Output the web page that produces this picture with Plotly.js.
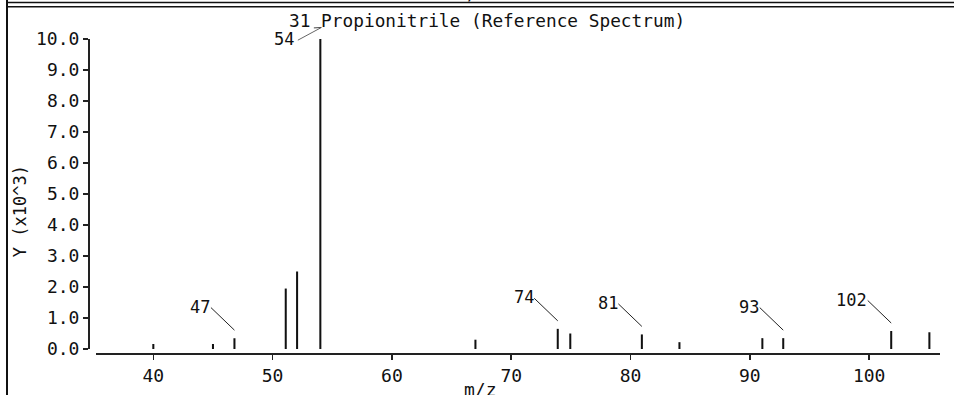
<!DOCTYPE html>
<html>
<head>
<meta charset="utf-8">
<script src="https://cdn.plot.ly/plotly-3.0.1.min.js"></script>
<style>
  html, body { margin: 0; padding: 0; background: #fff; }
  #chart { width: 954px; height: 395px; }
</style>
</head>
<body>
<div id="chart"></div>
<script>
// ---- data ----
const mz        = [40, 45, 46.8, 51.1, 52.05, 54, 67, 73.9, 74.95, 80.95, 84.1, 91.05, 92.8, 101.85, 105.05];
const intensity = [0.16, 0.16, 0.35, 1.95, 2.5, 10.0, 0.3, 0.65, 0.5, 0.47, 0.22, 0.35, 0.35, 0.58, 0.54];
const labelIdx  = [2, 7, 9, 12, 13];
const labelText = ['47', '74', '81', '93', '102'];
const baseIdx   = 5;
const baseText  = '54';
const titleText = '31 Propionitrile (Reference Spectrum)';
const xTitle    = 'm/z';
const yTitle    = 'Y (x10^3)';

const FONT = 'DejaVu Sans Mono, Liberation Mono, monospace';
const INK = '#111';

// layout geometry helpers (pixel -> paper)
const L = 89, R = 14, T = 39, B = 41, W = 954, H = 395;
const PW = W - L - R, PH = H - T - B;
const px = X => (X - L) / PW;
const py = Y => (H - B - Y) / PH;

const annotations = [];
labelIdx.forEach((i, k) => {
  // leader line
  annotations.push({
    x: mz[i], y: intensity[i], xref: 'x', yref: 'y', text: '',
    showarrow: true, arrowhead: 0, arrowwidth: 1, arrowcolor: '#222',
    standoff: 0, ax: -25, ay: -24, yshift: 8
  });
  // label text
  annotations.push({
    x: mz[i], y: intensity[i], xref: 'x', yref: 'y', text: labelText[k],
    showarrow: false, xanchor: 'right', yanchor: 'middle',
    xshift: -22, yshift: 31.5,
    font: {family: FONT, size: 17, color: INK}
  });
});
// base peak label with its leader running up to the title
annotations.push({
  x: mz[baseIdx], y: py(27.5), xref: 'x', yref: 'paper', text: '',
  showarrow: true, arrowhead: 0, arrowwidth: 1, arrowcolor: '#666',
  standoff: 0, ax: -25, ay: 13.5, xshift: 1
});
annotations.push({
  x: mz[baseIdx], y: py(27.5), xref: 'x', yref: 'paper', text: '',
  showarrow: true, arrowhead: 0, arrowwidth: 1, arrowcolor: '#444',
  standoff: 0, ax: -9, ay: 0.5, xshift: 1
});
annotations.push({
  x: mz[baseIdx], y: intensity[baseIdx], xref: 'x', yref: 'y', text: baseText,
  showarrow: false, xanchor: 'right', yanchor: 'middle', xshift: -24, yshift: 0,
  font: {family: FONT, size: 17, color: INK}
});
annotations.push({
  x: px(19.5), y: py(211.7), xref: 'paper', yref: 'paper',
  text: yTitle, textangle: -90, showarrow: false,
  xanchor: 'center', yanchor: 'middle',
  font: {family: FONT, size: 17, color: INK}
});
annotations.push({
  x: px(480), y: py(389), xref: 'paper', yref: 'paper',
  text: xTitle, showarrow: false, xanchor: 'center', yanchor: 'middle',
  font: {family: FONT, size: 18, color: INK}
});
annotations.push({
  x: px(472), y: py(-6), xref: 'paper', yref: 'paper',
  text: xTitle, showarrow: false, xanchor: 'center', yanchor: 'middle',
  font: {family: FONT, size: 17, color: INK}
});

const shapes = [
  {type: 'line', xref: 'paper', yref: 'paper', x0: px(7), x1: px(7), y0: py(0), y1: py(395),
   line: {color: '#111', width: 2}},
  {type: 'line', xref: 'paper', yref: 'paper', x0: px(7), x1: px(954), y0: py(2.6), y1: py(2.6),
   line: {color: '#111', width: 1.5}},
  {type: 'line', xref: 'paper', yref: 'paper', x0: px(7), x1: px(954), y0: py(6.7), y1: py(6.7),
   line: {color: '#111', width: 1.5}}
];

const trace = {
  type: 'bar', x: mz, y: intensity, width: 0.17,
  marker: {color: INK, line: {width: 0}}, hoverinfo: 'skip'
};

const layout = {
  width: W, height: H,
  margin: {l: L, r: R, t: T, b: B, pad: 0},
  paper_bgcolor: '#fff', plot_bgcolor: '#fff',
  showlegend: false,
  title: {text: titleText, xref: 'paper', x: px(289), xanchor: 'left',
          yref: 'container', y: 1 - 21 / H, yanchor: 'middle',
          font: {family: FONT, size: 17.8, color: INK}, pad: {t: 0, b: 0, l: 0, r: 0}},
  xaxis: {
    domain: [px(95.7), 1], range: [35.17, 105.94], anchor: 'free', position: 0,
    showline: true, linecolor: '#222', linewidth: 2,
    ticks: 'outside', ticklen: 5, tickwidth: 1.5, tickcolor: '#222',
    tick0: 0, dtick: 10, showgrid: false, zeroline: false, automargin: false,
    tickfont: {family: FONT, size: 18, color: INK}
  },
  yaxis: {
    domain: [py(349), 1], range: [0, 10], anchor: 'free', position: 0,
    showline: true, linecolor: '#222', linewidth: 2,
    ticks: 'outside', ticklen: 5, tickwidth: 1.5, tickcolor: '#222',
    tick0: 0, dtick: 1, tickformat: '.1f', showgrid: false, zeroline: false, automargin: false,
    tickfont: {family: FONT, size: 18, color: INK}
  },
  annotations: annotations,
  shapes: shapes
};

Plotly.newPlot('chart', [trace], layout, {displayModeBar: false, staticPlot: true});
</script>
</body>
</html>
